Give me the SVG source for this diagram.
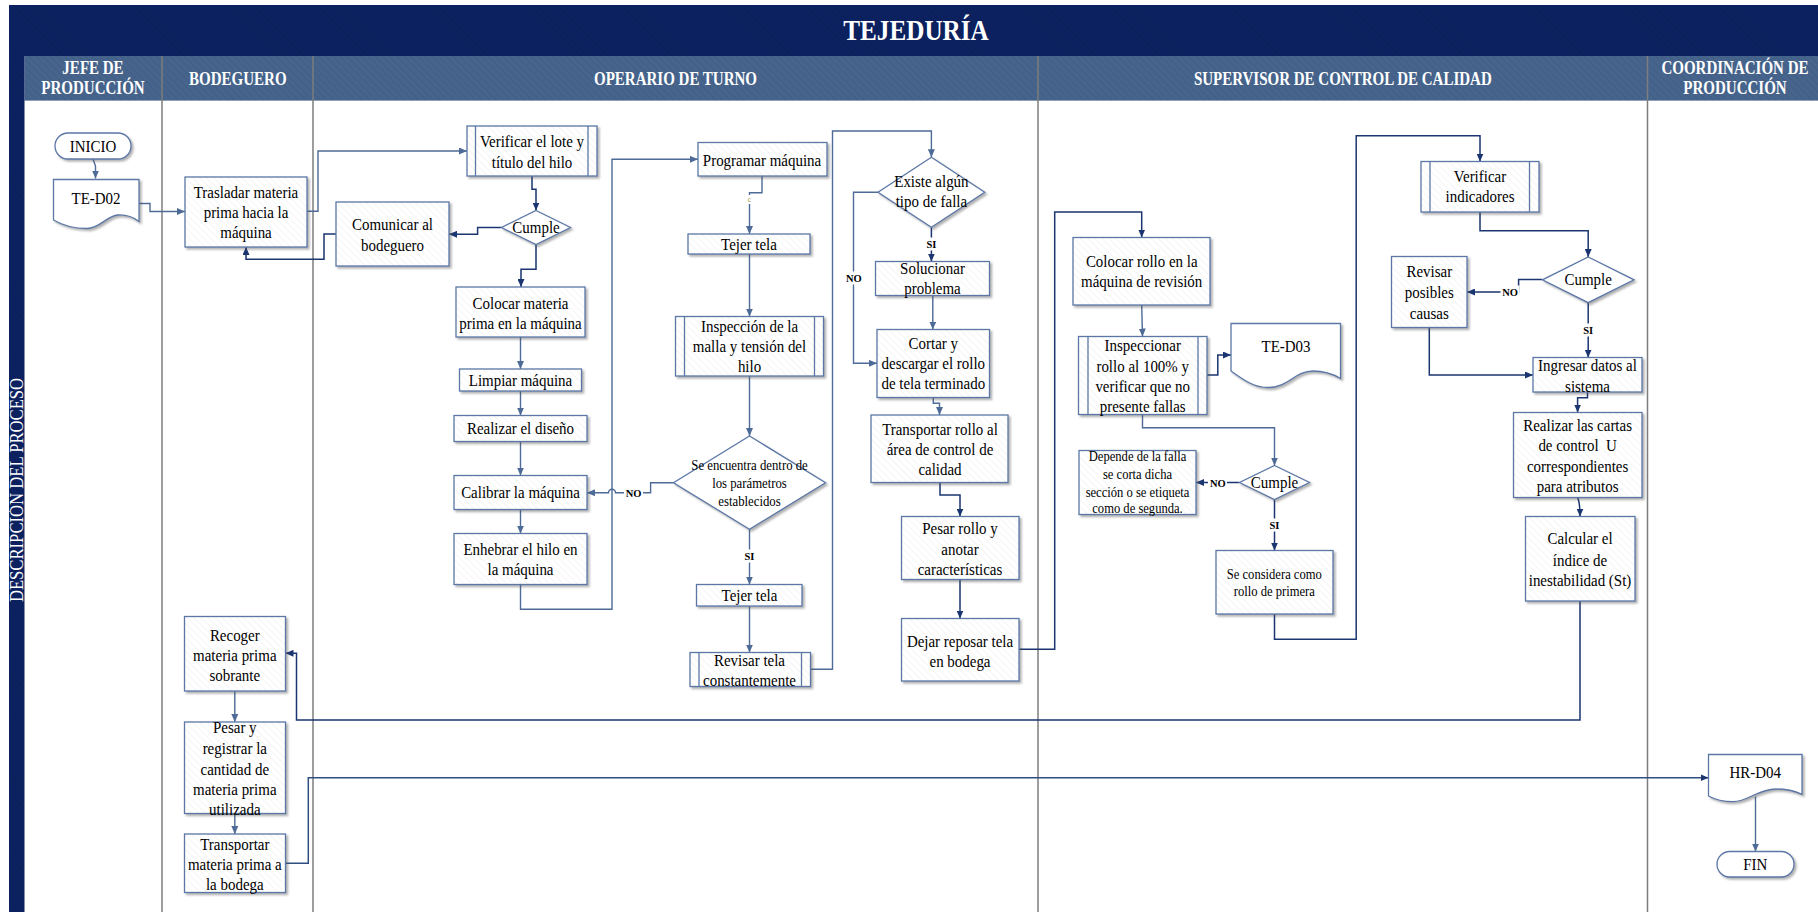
<svg xmlns="http://www.w3.org/2000/svg" width="1818" height="912" viewBox="0 0 1818 912">
  <defs>
    <style>
      .t { font-family: "Liberation Serif", "Times New Roman", serif; font-size: 17px; fill: #000; text-anchor: middle; }
      .ts { font-size: 14.5px; }
      .hd { font-family: "Liberation Serif", "Times New Roman", serif; font-weight: bold; font-size: 19px; fill: #fff; text-anchor: middle; }
      .lb { font-family: "Liberation Serif", "Times New Roman", serif; font-weight: bold; font-size: 10.5px; fill: #000; text-anchor: middle; }
      .nd { fill: url(#hatch); stroke: #5b77a6; stroke-width: 1.3; filter: url(#sh); }
      .nw { fill: #fff; stroke: #5b77a6; stroke-width: 1.3; filter: url(#sh); }
      .pl { fill: none; stroke: #5b77a6; stroke-width: 1.3; }
      .cd { fill: none; stroke: #1a3570; stroke-width: 1.5; marker-end: url(#ad); }
      .cl { fill: none; stroke: #4d6b96; stroke-width: 1.4; marker-end: url(#al); }
      .lane { stroke: #7d7d7d; stroke-width: 1.5; }
      .bg { fill: #fff; }
    </style>
    <pattern id="hatch" patternUnits="userSpaceOnUse" width="5" height="5" patternTransform="rotate(-45)">
      <rect width="5" height="5" fill="#fff"/>
      <line x1="0" y1="0" x2="0" y2="5" stroke="#ececec" stroke-width="1"/>
    </pattern>
    <pattern id="hhatch" patternUnits="userSpaceOnUse" width="5" height="5" patternTransform="rotate(-45)">
      <rect width="5" height="5" fill="#46648c"/>
      <line x1="0" y1="0" x2="0" y2="5" stroke="#3e5a80" stroke-width="1.2"/>
    </pattern>
    <pattern id="thatch" patternUnits="userSpaceOnUse" width="5" height="5" patternTransform="rotate(-45)">
      <rect width="5" height="5" fill="#0c2160"/>
      <line x1="0" y1="0" x2="0" y2="5" stroke="#0a1d55" stroke-width="1.2"/>
    </pattern>
    <filter id="sh" x="-10%" y="-10%" width="130%" height="130%">
      <feDropShadow dx="2" dy="2" stdDeviation="1.2" flood-color="#555" flood-opacity="0.45"/>
    </filter>
    <marker id="ad" viewBox="0 0 8 7" refX="8" refY="3.5" markerWidth="8" markerHeight="7" markerUnits="userSpaceOnUse" orient="auto">
      <path d="M0,0 L8,3.5 L0,7 z" fill="#1a3570"/>
    </marker>
    <marker id="al" viewBox="0 0 8 7" refX="8" refY="3.5" markerWidth="8" markerHeight="7" markerUnits="userSpaceOnUse" orient="auto">
      <path d="M0,0 L8,3.5 L0,7 z" fill="#4d6b96"/>
    </marker>
  </defs>

  <rect width="1818" height="912" fill="#fff"/>

  <!-- swimlane frame -->
  <g id="frame">
    <rect x="9" y="5" width="1809" height="51" fill="url(#thatch)"/>
    <text x="916" y="40" class="hd" style="font-size:30px" transform="matrix(.84 0 0 1 146.6 0)">TEJEDURÍA</text>
    <rect x="24.5" y="56" width="1793.5" height="44.5" fill="url(#hhatch)"/>
    <line x1="24.5" y1="100.5" x2="1818" y2="100.5" stroke="#8da0b8" stroke-width="1"/>
    <rect x="9" y="56" width="15.5" height="856" fill="url(#thatch)"/>
    <text class="hd" style="font-weight:normal;font-size:18px" transform="translate(23 490) rotate(-90) scale(.926 1)" x="0" y="0">DESCRIPCIÓN DEL PROCESO</text>
    <line class="lane" x1="162" y1="56" x2="162" y2="912"/>
    <line class="lane" x1="313" y1="56" x2="313" y2="912"/>
    <line class="lane" x1="1038" y1="56" x2="1038" y2="912"/>
    <line class="lane" x1="1647.5" y1="56" x2="1647.5" y2="912"/>
    <text class="hd" transform="matrix(.79 0 0 1 93 0)"><tspan x="0" y="74.5">JEFE DE</tspan><tspan x="0" y="94.5">PRODUCCIÓN</tspan></text>
    <text class="hd" transform="matrix(.79 0 0 1 237.8 0)" x="0" y="85">BODEGUERO</text>
    <text class="hd" transform="matrix(.79 0 0 1 675.5 0)" x="0" y="85">OPERARIO DE TURNO</text>
    <text class="hd" transform="matrix(.79 0 0 1 1342.8 0)" x="0" y="85">SUPERVISOR DE CONTROL DE CALIDAD</text>
    <text class="hd" transform="matrix(.79 0 0 1 1735 0)"><tspan x="0" y="74.5">COORDINACIÓN DE</tspan><tspan x="0" y="94.5">PRODUCCIÓN</tspan></text>
  </g>

  <!-- connectors -->
  <g id="connectors">
    <path class="cl" d="M93,159 L95.5,166 V178.5"/>
    <path class="cl" d="M139,203.5 H150 V211.5 H185"/>
    <path class="cl" d="M307,211.3 H318 V151 H467"/>
    <path class="cd" d="M532,176 V189.3 H536 V210.5"/>
    <path class="cd" d="M501.5,227.5 H477.6 V234.3 H449"/>
    <path class="cd" d="M336,234 H324 V259.3 H246 V247"/>
    <path class="cd" d="M536,244.5 V269.3 H521 V287"/>
    <path class="cl" d="M520.5,337 V369"/>
    <path class="cl" d="M520.5,391 V415.5"/>
    <path class="cl" d="M520.5,441.5 V475.5"/>
    <path class="cl" d="M520.5,509.5 V533.5"/>
    <path class="cl" d="M520.5,584.5 V609.3 H612 V159.3 H698"/>
    <path class="cl" d="M673.5,482.7 H650.6 V492.7 H615.5 A3.5,3.5 0 0 0 608.5,492.7 H587"/>
    <path class="cl" d="M762,176 V192.7 H749.5 V234"/>
    <path class="cl" d="M749.5,254 V316.5"/>
    <path class="cl" d="M749.5,376 V436"/>
    <path class="cl" d="M749.5,529.3 V584.5"/>
    <path class="cl" d="M749.5,606 V652.5"/>
    <path class="cl" d="M810.5,669.3 H832.5 V131 H931.4 V157.3"/>
    <path class="cl" d="M878,192.3 H853.5 V363.3 H877"/>
    <path class="cd" d="M931.4,227.3 V261.5"/>
    <path class="cl" d="M932.8,295.5 V329.5"/>
    <path class="cl" d="M933.3,397.5 V403.3 H939.5 V415"/>
    <path class="cd" d="M940,482.5 V495 H960 V516.5"/>
    <path class="cd" d="M960,579.5 V618.5"/>
    <path class="cd" d="M1019,649.3 H1054.7 V212 H1141.7 V237.5"/>
    <path class="cl" d="M1141.7,305 L1142.5,336.5"/>
    <path class="cd" d="M1207,375 H1217.8 V355 H1231"/>
    <path class="cl" d="M1142.5,414.5 V427.7 H1274.5 V465.5"/>
    <path class="cd" d="M1239.5,482.5 H1196"/>
    <path class="cd" d="M1274.5,499.5 V550.5"/>
    <path class="cd" d="M1274.5,614 V639.3 H1356.2 V135.7 H1480 V161.5"/>
    <path class="cd" d="M1480,212 V230.7 H1588.2 V257"/>
    <path class="cd" d="M1542.4,279.5 H1518.6 V292 H1467"/>
    <path class="cd" d="M1588.2,302.7 V357.5"/>
    <path class="cd" d="M1429.3,327.5 V375 H1533"/>
    <path class="cd" d="M1587.5,392 V397.7 H1577.6 V412.5"/>
    <path class="cd" d="M1577.6,497.5 Q1580,503 1580,516.5"/>
    <path class="cd" d="M1580,601 V720 H296.5 V653.3 H285.5"/>
    <path class="cl" d="M234.8,691 V722"/>
    <path class="cl" d="M234.8,813.5 V834"/>
    <path class="cd" style="stroke:#2f4f82" d="M285.5,863.3 H308.3 V777.7 H1708.5"/>
    <path class="cl" d="M1755.5,796.5 V851.5"/>

    <!-- branch labels -->
    <rect class="bg" x="624" y="486" width="19" height="13"/>
    <text class="lb" x="633.6" y="496.5">NO</text>
    <rect class="bg" x="843" y="271.5" width="21" height="13"/>
    <text class="lb" x="853.8" y="282">NO</text>
    <rect class="bg" x="923" y="237.5" width="17" height="13"/>
    <text class="lb" x="931.4" y="248">SI</text>
    <rect class="bg" x="741" y="549.5" width="17" height="13"/>
    <text class="lb" x="749.5" y="560">SI</text>
    <rect class="bg" x="1208" y="476" width="19" height="13"/>
    <text class="lb" x="1217.8" y="486.5">NO</text>
    <rect class="bg" x="1266" y="518.5" width="17" height="13"/>
    <text class="lb" x="1274.5" y="529">SI</text>
    <rect class="bg" x="1500.5" y="285.5" width="19" height="13"/>
    <text class="lb" x="1510" y="296">NO</text>
    <rect class="bg" x="1580" y="323.5" width="17" height="13"/>
    <text class="lb" x="1588.2" y="334">SI</text>
    <rect class="bg" x="746" y="195" width="7" height="9"/>
    <text x="749.5" y="202" style="font-family:'Liberation Serif',serif;font-size:8px;fill:#9a9a3a;text-anchor:middle">c</text>
  </g>

  <!-- JEFE DE PRODUCCIÓN -->
  <g id="inicio">
    <rect class="nw" x="55" y="133" width="76" height="26" rx="13"/>
    <text class="t" transform="matrix(.88 0 0 1 93 0)" x="0" y="152">INICIO</text>
  </g>
  <g id="te-d02">
    <path class="nw" d="M53.5,179.5 H139 V221.5 C133,217 126,214.5 118,215 C106,216 100,228.5 87,228.5 C74,228.5 62,225 53.5,220 Z"/>
    <text class="t" transform="matrix(.88 0 0 1 96 0)" x="0" y="204">TE-D02</text>
  </g>

  <!-- BODEGUERO -->
  <g id="trasladar">
    <rect class="nd" x="185" y="177" width="122" height="70"/>
    <text class="t" transform="matrix(.88 0 0 1 246 0)"><tspan x="0" y="198">Trasladar materia</tspan><tspan x="0" y="218">prima hacia la</tspan><tspan x="0" y="238">máquina</tspan></text>
  </g>
  <g id="recoger">
    <rect class="nd" x="184.5" y="616.5" width="101" height="74.5"/>
    <text class="t" transform="matrix(.88 0 0 1 234.8 0)"><tspan x="0" y="641">Recoger</tspan><tspan x="0" y="661">materia prima</tspan><tspan x="0" y="681">sobrante</tspan></text>
  </g>
  <g id="pesar-registrar">
    <rect class="nd" x="184.5" y="722" width="101" height="91.5"/>
    <text class="t" transform="matrix(.88 0 0 1 234.8 0)"><tspan x="0" y="733.5">Pesar y</tspan><tspan x="0" y="754">registrar la</tspan><tspan x="0" y="775">cantidad de</tspan><tspan x="0" y="795">materia prima</tspan><tspan x="0" y="815">utilizada</tspan></text>
  </g>
  <g id="transportar-mp">
    <rect class="nd" x="184.5" y="834" width="101" height="58.5"/>
    <text class="t" transform="matrix(.88 0 0 1 234.8 0)"><tspan x="0" y="850">Transportar</tspan><tspan x="0" y="870">materia prima a</tspan><tspan x="0" y="890">la bodega</tspan></text>
  </g>

  <!-- OPERARIO DE TURNO -->
  <g id="comunicar">
    <rect class="nd" x="336" y="202" width="113" height="64"/>
    <text class="t" transform="matrix(.88 0 0 1 392.5 0)"><tspan x="0" y="230">Comunicar al</tspan><tspan x="0" y="251">bodeguero</tspan></text>
  </g>
  <g id="verificar-lote">
    <rect class="nd" x="467" y="126" width="130" height="50"/>
    <line class="pl" x1="475.5" y1="126" x2="475.5" y2="176"/>
    <line class="pl" x1="588" y1="126" x2="588" y2="176"/>
    <text class="t" transform="matrix(.88 0 0 1 532 0)"><tspan x="0" y="147">Verificar el lote y</tspan><tspan x="0" y="168">título del hilo</tspan></text>
  </g>
  <g id="cumple-1">
    <polygon class="nw" points="536,210.5 570.5,227.5 536,244.5 501.5,227.5"/>
    <text class="t" transform="matrix(.88 0 0 1 536 0)" x="0" y="233">Cumple</text>
  </g>
  <g id="colocar-materia">
    <rect class="nd" x="456" y="287" width="129" height="50"/>
    <text class="t" transform="matrix(.88 0 0 1 520.5 0)"><tspan x="0" y="309">Colocar materia</tspan><tspan x="0" y="329.5">prima en la máquina</tspan></text>
  </g>
  <g id="limpiar">
    <rect class="nd" x="459.5" y="369" width="122" height="22"/>
    <text class="t" transform="matrix(.88 0 0 1 520.5 0)" x="0" y="386.5">Limpiar máquina</text>
  </g>
  <g id="realizar-diseno">
    <rect class="nd" x="454" y="415.5" width="133" height="26"/>
    <text class="t" transform="matrix(.88 0 0 1 520.5 0)" x="0" y="434">Realizar el diseño</text>
  </g>
  <g id="calibrar">
    <rect class="nd" x="454" y="475.5" width="133" height="34"/>
    <text class="t" transform="matrix(.88 0 0 1 520.5 0)" x="0" y="498">Calibrar la máquina</text>
  </g>
  <g id="enhebrar">
    <rect class="nd" x="454" y="533.5" width="133" height="51"/>
    <text class="t" transform="matrix(.88 0 0 1 520.5 0)"><tspan x="0" y="555">Enhebrar el hilo en</tspan><tspan x="0" y="575">la máquina</tspan></text>
  </g>
  <g id="programar">
    <rect class="nd" x="698" y="142.5" width="129" height="33.5"/>
    <text class="t" transform="matrix(.88 0 0 1 762 0)" x="0" y="166">Programar máquina</text>
  </g>
  <g id="tejer-1">
    <rect class="nd" x="688" y="234" width="122" height="20"/>
    <text class="t" transform="matrix(.88 0 0 1 749 0)" x="0" y="250.5">Tejer tela</text>
  </g>
  <g id="inspeccion-malla">
    <rect class="nd" x="675.5" y="316.5" width="148" height="59.5"/>
    <line class="pl" x1="684.5" y1="316.5" x2="684.5" y2="376"/>
    <line class="pl" x1="814.5" y1="316.5" x2="814.5" y2="376"/>
    <text class="t" transform="matrix(.88 0 0 1 749.5 0)"><tspan x="0" y="332.5">Inspección de la</tspan><tspan x="0" y="352.5">malla y tensión del</tspan><tspan x="0" y="372.5">hilo</tspan></text>
  </g>
  <g id="parametros">
    <polygon class="nw" points="749.5,436 825.5,482.7 749.5,529.3 673.5,482.7"/>
    <text class="t ts" transform="matrix(.88 0 0 1 749.5 0)"><tspan x="0" y="470">Se encuentra dentro de</tspan><tspan x="0" y="488">los parámetros</tspan><tspan x="0" y="506">establecidos</tspan></text>
  </g>
  <g id="tejer-2">
    <rect class="nd" x="696.5" y="584.5" width="105.5" height="21.5"/>
    <text class="t" transform="matrix(.88 0 0 1 749.5 0)" x="0" y="601.5">Tejer tela</text>
  </g>
  <g id="revisar-tela">
    <rect class="nd" x="690" y="652.5" width="120.5" height="34"/>
    <line class="pl" x1="699" y1="652.5" x2="699" y2="686.5"/>
    <line class="pl" x1="801.5" y1="652.5" x2="801.5" y2="686.5"/>
    <text class="t" transform="matrix(.88 0 0 1 749.5 0)"><tspan x="0" y="666">Revisar tela</tspan><tspan x="0" y="686">constantemente</tspan></text>
  </g>
  <g id="existe-falla">
    <polygon class="nw" points="931.4,157.3 984.7,192.3 931.4,227.3 878,192.3"/>
    <text class="t" transform="matrix(.88 0 0 1 931.4 0)"><tspan x="0" y="187.5">Existe algún</tspan><tspan x="0" y="207.5">tipo de falla</tspan></text>
  </g>
  <g id="solucionar">
    <rect class="nd" x="875.5" y="261.5" width="114" height="34"/>
    <text class="t" transform="matrix(.88 0 0 1 932.5 0)"><tspan x="0" y="274">Solucionar</tspan><tspan x="0" y="294">problema</tspan></text>
  </g>
  <g id="cortar">
    <rect class="nd" x="877" y="329.5" width="112.5" height="68"/>
    <text class="t" transform="matrix(.88 0 0 1 933.3 0)"><tspan x="0" y="349">Cortar y</tspan><tspan x="0" y="369">descargar el rollo</tspan><tspan x="0" y="389">de tela terminado</tspan></text>
  </g>
  <g id="transportar-rollo">
    <rect class="nd" x="871" y="415" width="137" height="67.5"/>
    <text class="t" transform="matrix(.88 0 0 1 940 0)"><tspan x="0" y="435">Transportar rollo al</tspan><tspan x="0" y="455">área de control de</tspan><tspan x="0" y="475">calidad</tspan></text>
  </g>
  <g id="pesar-rollo">
    <rect class="nd" x="901.5" y="516.5" width="117.5" height="63"/>
    <text class="t" transform="matrix(.88 0 0 1 960 0)"><tspan x="0" y="534">Pesar rollo y</tspan><tspan x="0" y="555">anotar</tspan><tspan x="0" y="575">características</tspan></text>
  </g>
  <g id="dejar-reposar">
    <rect class="nd" x="901.5" y="618.5" width="117.5" height="62.5"/>
    <text class="t" transform="matrix(.88 0 0 1 960 0)"><tspan x="0" y="647">Dejar reposar tela</tspan><tspan x="0" y="667">en bodega</tspan></text>
  </g>

  <!-- SUPERVISOR DE CONTROL DE CALIDAD -->
  <g id="colocar-rollo">
    <rect class="nd" x="1073" y="237.5" width="137" height="67.5"/>
    <text class="t" transform="matrix(.88 0 0 1 1141.7 0)"><tspan x="0" y="267.5">Colocar rollo en la</tspan><tspan x="0" y="287.5">máquina de revisión</tspan></text>
  </g>
  <g id="inspeccionar-rollo">
    <rect class="nd" x="1078.5" y="336.5" width="128.5" height="78"/>
    <line class="pl" x1="1088" y1="336.5" x2="1088" y2="414.5"/>
    <line class="pl" x1="1198" y1="336.5" x2="1198" y2="414.5"/>
    <text class="t" transform="matrix(.88 0 0 1 1142.7 0)"><tspan x="0" y="351.5">Inspeccionar</tspan><tspan x="0" y="372">rollo al 100% y</tspan><tspan x="0" y="392">verificar que no</tspan><tspan x="0" y="412">presente fallas</tspan></text>
  </g>
  <g id="te-d03">
    <path class="nw" d="M1231,323.5 H1340.5 V378.5 C1333,374 1324,371 1313,371 C1295,371 1288,387.5 1268,387.5 C1252,387.5 1240,377 1231,371 Z"/>
    <text class="t" transform="matrix(.88 0 0 1 1286 0)" x="0" y="352.5">TE-D03</text>
  </g>
  <g id="cumple-3">
    <polygon class="nw" points="1274.5,465.5 1309.5,482.5 1274.5,499.5 1239.5,482.5"/>
    <text class="t" transform="matrix(.88 0 0 1 1274.5 0)" x="0" y="488">Cumple</text>
  </g>
  <g id="depende">
    <rect class="nd" x="1079" y="450.5" width="117" height="64"/>
    <text class="t" style="font-size:14px" transform="matrix(.9 0 0 1 1137.5 0)"><tspan x="0" y="461">Depende de la falla</tspan><tspan x="0" y="479">se corta dicha</tspan><tspan x="0" y="497">sección o se etiqueta</tspan><tspan x="0" y="513.5">como de segunda.</tspan></text>
  </g>
  <g id="se-considera">
    <rect class="nd" x="1216" y="550.5" width="117" height="63.5"/>
    <text class="t" style="font-size:14px" transform="matrix(.9 0 0 1 1274.3 0)"><tspan x="0" y="579.5">Se considera como</tspan><tspan x="0" y="596">rollo de primera</tspan></text>
  </g>
  <g id="verificar-indicadores">
    <rect class="nd" x="1421" y="161.5" width="118" height="50.5"/>
    <line class="pl" x1="1430" y1="161.5" x2="1430" y2="212"/>
    <line class="pl" x1="1529.5" y1="161.5" x2="1529.5" y2="212"/>
    <text class="t" transform="matrix(.88 0 0 1 1480 0)"><tspan x="0" y="182.5">Verificar</tspan><tspan x="0" y="202.5">indicadores</tspan></text>
  </g>
  <g id="cumple-2">
    <polygon class="nw" points="1588.2,257 1634,279.8 1588.2,302.7 1542.4,279.8"/>
    <text class="t" transform="matrix(.88 0 0 1 1588.2 0)" x="0" y="285.5">Cumple</text>
  </g>
  <g id="revisar-causas">
    <rect class="nd" x="1391.5" y="256.5" width="75.5" height="71"/>
    <text class="t" transform="matrix(.88 0 0 1 1429.3 0)"><tspan x="0" y="277.5">Revisar</tspan><tspan x="0" y="298">posibles</tspan><tspan x="0" y="319">causas</tspan></text>
  </g>
  <g id="ingresar">
    <rect class="nd" x="1533" y="357.5" width="109" height="34.5"/>
    <text class="t" transform="matrix(.88 0 0 1 1587.5 0)"><tspan x="0" y="371">Ingresar datos al</tspan><tspan x="0" y="392">sistema</tspan></text>
  </g>
  <g id="cartas-control">
    <rect class="nd" x="1513.5" y="412.5" width="128.5" height="85"/>
    <text class="t" transform="matrix(.88 0 0 1 1577.6 0)"><tspan x="0" y="431">Realizar las cartas</tspan><tspan x="0" y="451">de control&#160; U</tspan><tspan x="0" y="472">correspondientes</tspan><tspan x="0" y="492">para atributos</tspan></text>
  </g>
  <g id="calcular">
    <rect class="nd" x="1525.5" y="516.5" width="109.5" height="84.5"/>
    <text class="t" transform="matrix(.88 0 0 1 1580 0)"><tspan x="0" y="544">Calcular el</tspan><tspan x="0" y="566">índice de</tspan><tspan x="0" y="586">inestabilidad (St)</tspan></text>
  </g>

  <!-- COORDINACIÓN DE PRODUCCIÓN -->
  <g id="hr-d04">
    <path class="nw" d="M1708.5,754.5 H1802 V794.3 C1795,791 1786,789 1776,789 C1758,789 1748,801.7 1733,801.7 C1722,801.7 1714,799 1708.5,796 Z"/>
    <text class="t" transform="matrix(.88 0 0 1 1755.3 0)" x="0" y="778.5">HR-D04</text>
  </g>
  <g id="fin">
    <rect class="nw" x="1717" y="851.5" width="77" height="25.5" rx="12.7"/>
    <text class="t" transform="matrix(.88 0 0 1 1755.3 0)" x="0" y="870">FIN</text>
  </g>
</svg>
